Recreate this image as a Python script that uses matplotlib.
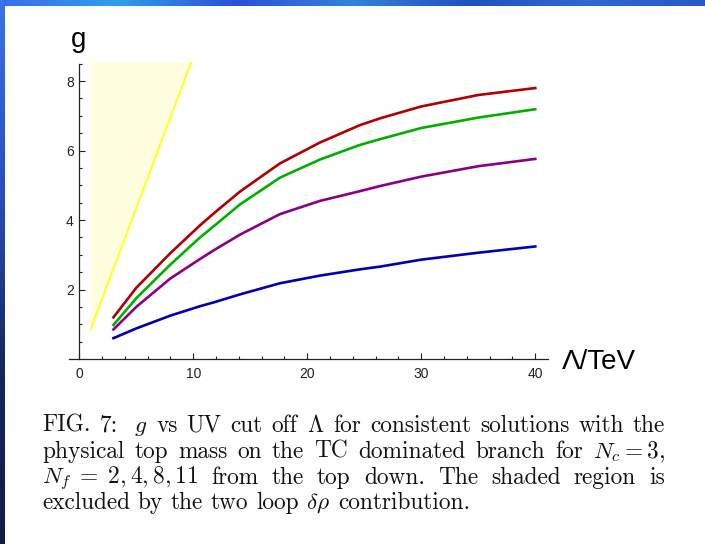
import matplotlib
matplotlib.use("Agg")
import matplotlib.pyplot as plt
import numpy as np
from matplotlib.colors import LinearSegmentedColormap

# curve data (g vs UV cut off Lambda in TeV)
lam = [3, 5, 8, 10.6, 11.9, 14.1, 17.6, 21.1, 24.6, 26.4, 30, 35, 40]
g_nf2 = [1.2, 2.05, 3.05, 3.85, 4.22, 4.82, 5.63, 6.23, 6.73, 6.93, 7.27, 7.6, 7.8]
g_nf4 = [0.98, 1.75, 2.72, 3.5, 3.85, 4.45, 5.22, 5.74, 6.16, 6.33, 6.65, 6.95, 7.19]
g_nf8 = [0.85, 1.5, 2.32, 2.88, 3.15, 3.58, 4.17, 4.55, 4.83, 4.98, 5.25, 5.55, 5.76]
g_nf11 = [0.6, 0.88, 1.25, 1.52, 1.64, 1.86, 2.18, 2.4, 2.58, 2.66, 2.86, 3.06, 3.24]
curve_colors = ['#b00000', '#00b000', '#880088', '#0000b0']

# edge of the excluded (shaded) region
excl_lam = [1, 10]
excl_g = [0.86, 8.7]

x_major = [0, 10, 20, 30, 40]
y_major = [2, 4, 6, 8]

caption = [
    ["FIG.", "7:", "$g$", "vs", "UV", "cut", "off", "$\\Lambda$", "for",
     "consistent", "solutions", "with", "the"],
    ["physical", "top", "mass", "on", "the", "TC", "dominated", "branch", "for",
     "$N_c = 3$,"],
    ["$N_f\\;=\\;2,4,8,11$", "from", "the", "top", "down.", "The", "shaded",
     "region", "is"],
    ["excluded", "by", "the", "two", "loop", "$\\delta\\rho$", "contribution."],
]

W, H = 705, 544
fig = plt.figure(figsize=(W / 100, H / 100), dpi=100)
fig.patch.set_facecolor('white')

# slide border: gradient band on top, dark band on the left
top_cmap = LinearSegmentedColormap.from_list(
    'top', ['#3a6ee6', '#2f9fe8', '#2a50d8', '#3184d8', '#2150c0', '#2f6ad0', '#2a58c8'])
band = fig.add_axes([0, 1 - 6 / H, 1, 6 / H])
band.imshow(np.linspace(0, 1, 256)[None, :], aspect='auto', cmap=top_cmap)
band.axis('off')
left_cmap = LinearSegmentedColormap.from_list('left', ['#3a74e6', '#2a50c0', '#18275e', '#121c48'])
side = fig.add_axes([0, 0, 5 / W, 1])
side.imshow(np.linspace(0, 1, 256)[:, None], aspect='auto', cmap=left_cmap)
side.axis('off')

ax = fig.add_axes([69 / W, 185 / H, 478.8 / W, 297 / H])
ax.set_xlim(-0.9, 41.1)
ax.set_ylim(0, 8.55)

# shaded exclusion region and its yellow border
ax.fill_between(excl_lam, excl_g, 9, color='#ffffe0', lw=0, zorder=1)
ax.plot(excl_lam, excl_g, color='#ffff30', lw=1.6, zorder=2, solid_capstyle='butt')

for g, c in zip([g_nf2, g_nf4, g_nf8, g_nf11], curve_colors):
    ax.plot(lam, g, color=c, lw=1.9, zorder=3)

# Mathematica-style axes crossing at the origin
ax.spines['top'].set_visible(False)
ax.spines['right'].set_visible(False)
ax.spines['left'].set_position(('data', 0))
ax.spines['left'].set_bounds(0, 8.5)
for s in ['left', 'bottom']:
    ax.spines[s].set_linewidth(0.9)
    ax.spines[s].set_color('#222222')

ax.set_xticks(x_major)
ax.set_xticks(np.arange(2, 41, 2), minor=True)
ax.set_yticks(y_major)
ax.set_yticks(np.arange(0.5, 8.51, 0.5), minor=True)
ax.tick_params(which='both', direction='in', color='#222222', width=0.8,
               labelsize=10, labelcolor='#222222')
ax.tick_params(which='major', length=4.5)
ax.tick_params(which='minor', length=2.5)
ax.tick_params(axis='x', pad=6)
ax.tick_params(axis='y', pad=4)
for lbl in ax.get_xticklabels() + ax.get_yticklabels():
    lbl.set_family('Liberation Sans')

fig.text(78.5 / W, 1 - 47 / H, 'g', ha='center', va='baseline', fontsize=20,
         family='Liberation Sans')
fig.text(562 / W, 1 - 369 / H, '\u039b/TeV', ha='left', va='baseline', fontsize=20,
         family='Liberation Sans')

# caption, justified like the paper
plt.rcParams['mathtext.fontset'] = 'cm'
cap_size = 16.8
cap_kw = dict(fontsize=cap_size, family='cmr10', va='baseline', ha='left', color='#111111')
x0, x1 = 42, 665
baselines = [432, 458, 484, 509]
extra_after = {(0, 1): 7}  # wider gap after "FIG. 7:"
renderer = fig.canvas.get_renderer()
for i, (words, yb) in enumerate(zip(caption, baselines)):
    texts = [fig.text(0, 1 - yb / H, w, **cap_kw) for w in words]
    widths = [t.get_window_extent(renderer).width for t in texts]
    extras = [extra_after.get((i, j), 0) for j in range(len(words))]
    if i == len(caption) - 1:
        gap = cap_size * 100 / 72 * 0.333
    else:
        gap = (x1 - x0 - sum(widths) - sum(extras)) / (len(words) - 1)
    x = x0
    for t, w, e in zip(texts, widths, extras):
        t.set_x(x / W)
        x += w + gap + e

fig.savefig('out.png', dpi=100, facecolor='white')
